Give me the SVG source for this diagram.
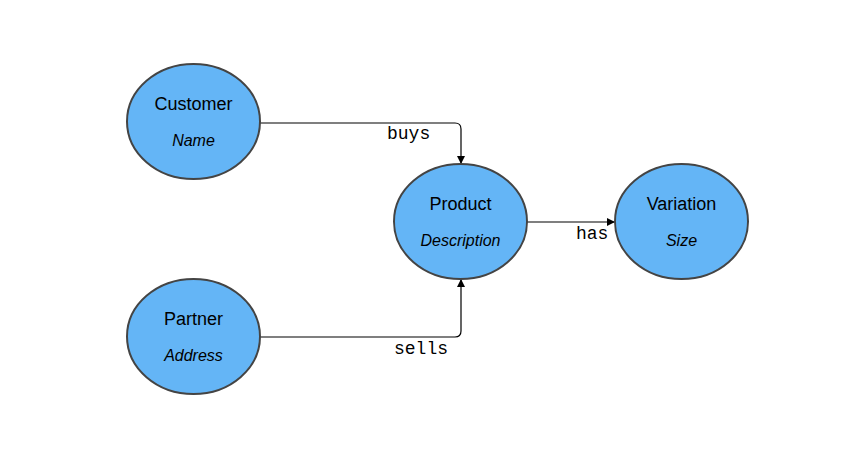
<svg xmlns="http://www.w3.org/2000/svg" width="842" height="449" viewBox="0 0 842 449">
<defs>
<marker id="arr" viewBox="0 0 10 10" refX="10" refY="5" markerWidth="8" markerHeight="8" markerUnits="userSpaceOnUse" orient="auto">
<path d="M0,0 L10,5 L0,10 z" fill="#000"/>
</marker>
<style>
.node{fill:#64b5f6;stroke:#444;stroke-width:2}
.t{font-family:"Liberation Sans",Arial,sans-serif;font-size:18px;fill:#000;text-anchor:middle}
.a{font-family:"Liberation Sans",Arial,sans-serif;font-size:16px;font-style:italic;fill:#000;text-anchor:middle}
.edge{fill:none;stroke:#000;stroke-width:1.2}
.lbl{font-family:"Liberation Mono","Courier New",monospace;font-size:18px;fill:#000}
</style>
</defs>
<rect width="842" height="449" fill="#fff"/>
<g id="connectors">
<path class="edge" d="M260,123 H455 Q461,123 461,129 V164" marker-end="url(#arr)"/>
<text class="lbl" x="387" y="139">buys</text>
<path class="edge" d="M527,222 H615" marker-end="url(#arr)"/>
<text class="lbl" x="576" y="239">has</text>
<path class="edge" d="M260,337 H455 Q461,337 461,331 V279" marker-end="url(#arr)"/>
<text class="lbl" x="394" y="354">sells</text>
</g>
<g id="customer">
<ellipse class="node" cx="193.5" cy="121.5" rx="66.5" ry="57.5"/>
<text class="t" x="193.5" y="110">Customer</text>
<text class="a" x="193.5" y="146">Name</text>
</g>
<g id="product">
<ellipse class="node" cx="460.5" cy="221.5" rx="66.5" ry="57.5"/>
<text class="t" x="460.5" y="210">Product</text>
<text class="a" x="460.5" y="246">Description</text>
</g>
<g id="variation">
<ellipse class="node" cx="681.5" cy="221.5" rx="66.5" ry="57.5"/>
<text class="t" x="681.5" y="210">Variation</text>
<text class="a" x="681.5" y="246">Size</text>
</g>
<g id="partner">
<ellipse class="node" cx="193.5" cy="336.5" rx="66.5" ry="57.5"/>
<text class="t" x="193.5" y="325">Partner</text>
<text class="a" x="193.5" y="361">Address</text>
</g>
</svg>
